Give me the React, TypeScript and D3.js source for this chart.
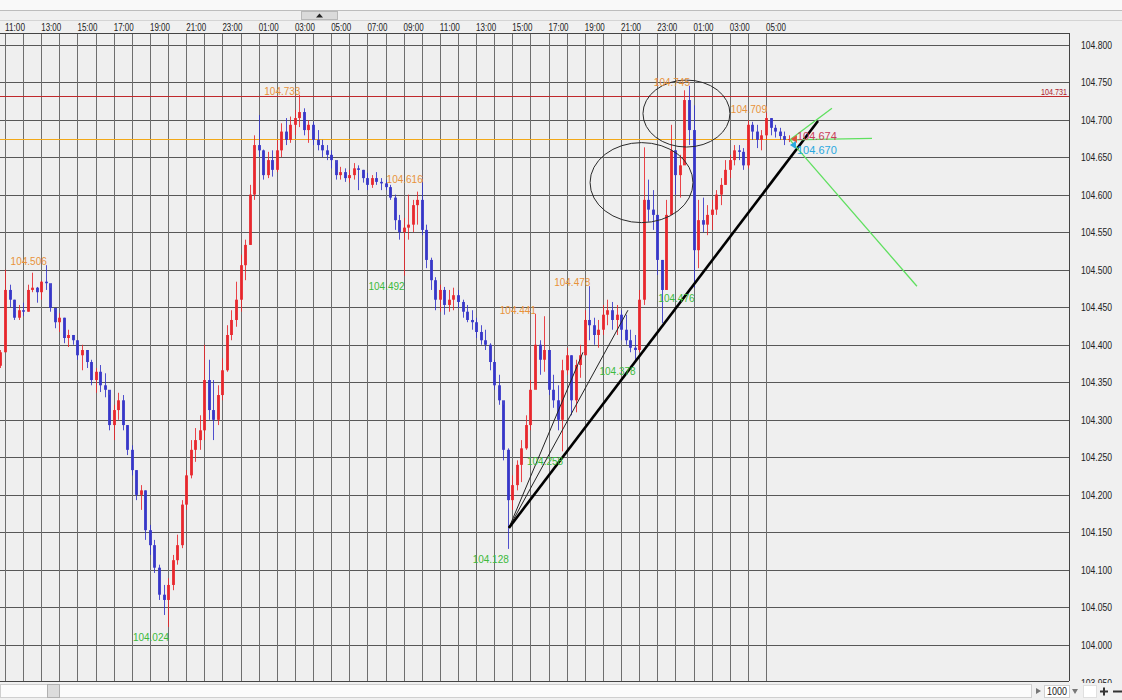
import React from "react";
import * as d3 from "d3";

// ---- time axis: hours counted from 11:00 of the first day ----
const FIRST_BAR_HOUR = -0.25; // 10:45
const BAR_HOURS = 0.25; // 15-minute bars
const timeLabels = ["11:00","13:00","15:00","17:00","19:00","21:00","23:00","01:00","03:00","05:00","07:00","09:00","11:00","13:00","15:00","17:00","19:00","21:00","23:00","01:00","03:00","05:00"];
const hourGridCount = 43; // hourly vertical lines 0..42

// ---- price axis ----
const priceTicks = [104.8,104.75,104.7,104.65,104.6,104.55,104.5,104.45,104.4,104.35,104.3,104.25,104.2,104.15,104.1,104.05,104.0,103.95];

// ---- OHLC series (open = previous close) ----
const firstOpen = 104.372;
const highs = [104.393,104.500,104.480,104.460,104.453,104.456,104.480,104.496,104.477,104.485,104.506,104.476,104.446,104.442,104.436,104.420,104.413,104.406,104.400,104.393,104.380,104.369,104.373,104.362,104.333,104.320,104.336,104.333,104.293,104.266,104.233,104.213,104.206,104.160,104.140,104.107,104.080,104.089,104.120,104.147,104.193,104.233,104.273,104.289,104.306,104.400,104.380,104.353,104.346,104.382,104.426,104.446,104.484,104.520,104.540,104.613,104.679,104.706,104.660,104.657,104.659,104.673,104.695,104.702,104.704,104.713,104.733,104.715,104.699,104.697,104.686,104.673,104.666,104.659,104.642,104.637,104.635,104.633,104.642,104.639,104.633,104.629,104.626,104.630,104.622,104.620,104.613,104.600,104.573,104.569,104.600,104.593,104.604,104.616,104.560,104.516,104.490,104.480,104.477,104.473,104.476,104.473,104.460,104.453,104.446,104.436,104.426,104.420,104.402,104.380,104.360,104.320,104.262,104.226,104.246,104.273,104.306,104.353,104.441,104.406,104.438,104.393,104.360,104.346,104.380,104.396,104.386,104.380,104.400,104.446,104.478,104.436,104.433,104.453,104.460,104.457,104.453,104.446,104.440,104.420,104.413,104.473,104.663,104.620,104.606,104.573,104.513,104.593,104.693,104.659,104.653,104.739,104.745,104.719,104.593,104.596,104.586,104.593,104.606,104.622,104.646,104.653,104.666,104.666,104.662,104.699,104.697,104.693,104.686,104.709,104.702,104.693,104.689,104.684,104.679];
const lows = [104.369,104.390,104.450,104.433,104.433,104.438,104.444,104.470,104.456,104.460,104.473,104.444,104.422,104.417,104.402,104.397,104.400,104.380,104.366,104.369,104.346,104.336,104.337,104.330,104.286,104.273,104.300,104.286,104.253,104.226,104.193,104.180,104.140,104.120,104.096,104.060,104.040,104.024,104.073,104.107,104.129,104.180,104.222,104.244,104.260,104.273,104.300,104.273,104.293,104.326,104.364,104.406,104.424,104.444,104.486,104.533,104.593,104.650,104.620,104.622,104.624,104.630,104.650,104.666,104.669,104.679,104.690,104.679,104.669,104.666,104.659,104.650,104.646,104.635,104.620,104.620,104.617,104.616,104.620,104.606,104.616,104.606,104.609,104.613,104.606,104.606,104.593,104.553,104.540,104.492,104.540,104.550,104.560,104.546,104.502,104.473,104.446,104.444,104.440,104.444,104.446,104.449,104.436,104.430,104.420,104.409,104.400,104.393,104.366,104.340,104.320,104.246,104.128,104.180,104.206,104.217,104.260,104.286,104.346,104.360,104.364,104.333,104.316,104.286,104.258,104.360,104.306,104.310,104.356,104.393,104.406,104.400,104.396,104.413,104.426,104.420,104.413,104.406,104.400,104.390,104.378,104.390,104.453,104.564,104.553,104.493,104.429,104.473,104.573,104.600,104.596,104.659,104.666,104.476,104.502,104.550,104.546,104.553,104.573,104.586,104.613,104.622,104.639,104.646,104.633,104.635,104.673,104.662,104.659,104.673,104.679,104.676,104.673,104.666,104.670];
const closes = [104.390,104.473,104.460,104.436,104.446,104.444,104.473,104.476,104.470,104.484,104.482,104.449,104.430,104.436,104.409,104.413,104.406,104.386,104.393,104.377,104.353,104.364,104.346,104.340,104.293,104.313,104.326,104.293,104.260,104.233,104.200,104.206,104.153,104.133,104.103,104.067,104.060,104.080,104.113,104.133,104.187,104.226,104.260,104.273,104.286,104.353,104.313,104.300,104.333,104.366,104.413,104.433,104.460,104.506,104.533,104.600,104.666,104.659,104.626,104.646,104.633,104.659,104.684,104.673,104.693,104.702,104.710,104.686,104.693,104.673,104.666,104.659,104.653,104.646,104.626,104.630,104.622,104.626,104.635,104.633,104.622,104.613,104.622,104.617,104.615,104.610,104.596,104.566,104.550,104.556,104.560,104.586,104.593,104.553,104.513,104.486,104.460,104.473,104.453,104.460,104.466,104.457,104.444,104.433,104.430,104.417,104.406,104.400,104.377,104.346,104.326,104.260,104.193,104.213,104.240,104.262,104.293,104.340,104.400,104.380,104.393,104.340,104.326,104.300,104.366,104.386,104.326,104.373,104.386,104.433,104.426,104.413,104.420,104.440,104.446,104.433,104.440,104.420,104.406,104.396,104.393,104.460,104.593,104.580,104.573,104.513,104.473,104.573,104.659,104.626,104.639,104.726,104.686,104.526,104.566,104.560,104.573,104.580,104.600,104.613,104.633,104.646,104.659,104.657,104.639,104.693,104.684,104.673,104.679,104.702,104.689,104.684,104.678,104.673,104.674];

// swing-point annotations (bar indexes)
const highMarks = [10, 66, 93, 118, 130, 152, 169];
const lowMarks = [37, 89, 112, 124, 140, 153];

// reference levels
const redLevel = 104.731;
const bidLevel = 104.674;
const askLevel = 104.670;

// drawing-tool objects in (hour, price)
const trendLine: [number, number][] = [[27.81, 104.156], [44.87, 104.698]];
const fanLines: [number, number][][] = [
  [[27.81, 104.156], [31.9, 104.390]],
  [[27.81, 104.156], [34.38, 104.446]],
];
const ellipses = [
  { t: 35.13, p: 104.616, rt: 2.84, rp: 0.0533 },
  { t: 37.61, p: 104.708, rt: 2.40, rp: 0.0446 },
];
const greenOrigin: [number, number] = [43.32, 104.673];
const greenEnds: [number, number][] = [[45.64, 104.715], [47.85, 104.675], [50.33, 104.478]];

const UP = "#e8262b";
const DOWN = "#3434c8";

export default function App() {
  const W = 1122, H = 700;
  const plot = { left: 0, right: 1069, top: 33, bottom: 681 };
  const x = d3.scaleLinear().domain([0, 42]).range([5, 766]);
  const y = d3.scaleLinear().domain([104, 104.8]).range([645, 44.5]);
  const fmt = d3.format(".3f");
  const crisp = (v: number) => Math.round(v) + 0.5;

  const bars = closes.map((c, i) => {
    const t = FIRST_BAR_HOUR + i * BAR_HOURS;
    const o = i === 0 ? firstOpen : closes[i - 1];
    return { t, o, h: highs[i], l: lows[i], c, up: c >= o };
  });

  const lineGen = d3.line<[number, number]>().x((d) => x(d[0])).y((d) => y(d[1]));

  return (
    <svg width={W} height={H} style={{ position: "absolute", left: 0, top: 0, fontFamily: "Liberation Sans, Arial, sans-serif" }}>
      <defs>
        <clipPath id="plotClip">
          <rect x={plot.left} y={plot.top} width={plot.right - plot.left} height={plot.bottom - plot.top} />
        </clipPath>
      </defs>
      <rect x={0} y={0} width={W} height={H} fill="#f0f0f0" />
      <rect x={plot.left} y={plot.top} width={plot.right - plot.left} height={plot.bottom - plot.top} fill="#efefef" />

      <g clipPath="url(#plotClip)">
        {/* horizontal grid */}
        {priceTicks.map((p) => (
          <line key={"h" + p} x1={plot.left} x2={plot.right} y1={crisp(y(p))} y2={crisp(y(p))} stroke="#585858" strokeWidth={1} />
        ))}
        {/* vertical hourly grid */}
        {d3.range(hourGridCount).map((h) => (
          <line key={"v" + h} x1={crisp(x(h))} x2={crisp(x(h))} y1={plot.top} y2={plot.bottom} stroke="#6e6e6e" strokeWidth={1} />
        ))}
        {/* reference levels */}
        <line x1={plot.left} x2={plot.right} y1={crisp(y(redLevel))} y2={crisp(y(redLevel))} stroke="#c0282c" strokeWidth={1} />
        <line x1={plot.left} x2={x(bars[bars.length - 1].t) + 2} y1={crisp(y(bidLevel))} y2={crisp(y(bidLevel))} stroke="#f2a818" strokeWidth={1} />

        {/* bars */}
        {bars.map((b, i) => {
          const cx = Math.round(x(b.t));
          const col = b.up ? UP : DOWN;
          const top = y(Math.max(b.o, b.c));
          const bot = y(Math.min(b.o, b.c));
          return (
            <g key={"b" + i}>
              <line x1={cx + 0.5} x2={cx + 0.5} y1={y(b.h)} y2={y(b.l)} stroke={col} strokeWidth={1} opacity={0.85} />
              <rect x={cx - 1} y={top} width={3} height={Math.max(1, bot - top)} fill={col} opacity={0.9} />
            </g>
          );
        })}

        {/* ellipses */}
        {ellipses.map((e, i) => (
          <ellipse key={"e" + i} cx={x(e.t)} cy={y(e.p)} rx={x(e.rt) - x(0)} ry={y(104) - y(104 + e.rp)} fill="none" stroke="#2a2a2a" strokeWidth={1} />
        ))}
        {/* fan lines */}
        {fanLines.map((l, i) => (
          <path key={"f" + i} d={lineGen(l) || ""} fill="none" stroke="#222" strokeWidth={1} />
        ))}
        <path d={lineGen(trendLine) || ""} fill="none" stroke="#000" strokeWidth={2.6} />
        {/* green lines */}
        {greenEnds.map((g, i) => (
          <path key={"g" + i} d={lineGen([greenOrigin, g]) || ""} fill="none" stroke="#5fe05f" strokeWidth={1.3} />
        ))}

        {/* swing labels */}
        {highMarks.map((k) => (
          <text key={"hm" + k} x={x(bars[k].t) + 1} y={y(bars[k].h)} textAnchor="end" fontSize={10} fill="#e8923a">{fmt(bars[k].h)}</text>
        ))}
        {lowMarks.map((k) => (
          <text key={"lm" + k} x={x(bars[k].t) + 1} y={y(bars[k].l) + 14} textAnchor="end" fontSize={10} fill="#3cba3c">{fmt(bars[k].l)}</text>
        ))}

        {/* last price markers */}
        <path d={`M${x(greenOrigin[0]) + 1},${y(bidLevel)} l6,-4 l0,8 z`} fill="#e0503a" />
        <path d={`M${x(greenOrigin[0])},${y(askLevel) + 3} l6,-4 l0,8 z`} fill="#28a8e0" />
        <text x={797} y={y(bidLevel) + 1} fontSize={11} fill="#c8405a">{fmt(bidLevel)}</text>
        <text x={797} y={y(askLevel) + 12} fontSize={11} fill="#28a8e0">{fmt(askLevel)}</text>

        <text x={1067} y={crisp(y(redLevel)) - 2} textAnchor="end" fontSize={8.5} fill="#b0202a" textLength={26} lengthAdjust="spacingAndGlyphs">{fmt(redLevel)}</text>
      </g>

      {/* plot frame */}
      <line x1={plot.left} x2={plot.right} y1={plot.top + 0.5} y2={plot.top + 0.5} stroke="#444" />
      <line x1={plot.right + 0.5} x2={plot.right + 0.5} y1={plot.top} y2={plot.bottom} stroke="#444" />
      <line x1={plot.left} x2={plot.right} y1={plot.bottom + 0.5} y2={plot.bottom + 0.5} stroke="#444" />

      {/* price axis labels */}
      {priceTicks.map((p) => (
        <text key={"pl" + p} x={1081} y={y(p) + 4} fontSize={11} fill="#222" textLength={31} lengthAdjust="spacingAndGlyphs">{fmt(p)}</text>
      ))}

      {/* top strip */}
      <rect x={0} y={0} width={W} height={10} fill="#f9f9f9" />
      <line x1={0} x2={W} y1={10.5} y2={10.5} stroke="#bdbdbd" />
      <line x1={0} x2={W} y1={20.5} y2={20.5} stroke="#d4d4d4" />
      <rect x={301.5} y={11.5} width={36} height={8} fill="#dadada" stroke="#b8b8b8" />
      <path d="M316,17.5 L319.5,13.5 L323,17.5 Z" fill="#222" />
      {timeLabels.map((s, i) => (
        <text key={"tl" + i} x={x(i * 2)} y={30.5} fontSize={10.5} fill="#222" textLength={20} lengthAdjust="spacingAndGlyphs">{s}</text>
      ))}

      {/* bottom strip */}
      <rect x={0} y={683} width={W} height={17} fill="#f0f0f0" />
      <rect x={0.5} y={684.5} width={1031} height={13} fill="#fbfbfb" stroke="#cfcfcf" />
      <rect x={47.5} y={684.5} width={12} height={13} fill="#dcdcdc" stroke="#b0b0b0" />
      <path d="M1036,688 L1041,691 L1036,694 Z" fill="#777" />
      <rect x={1044.5} y={685.5} width={25} height={12} fill="#fff" stroke="#d0d0d0" />
      <text x={1047} y={695} fontSize={10.5} fill="#222" textLength={20} lengthAdjust="spacingAndGlyphs">1000</text>
      <path d="M1072,689 L1078,689 L1075,694 Z" fill="#777" />
      <rect x={1083.5} y={685.5} width={13} height={12} fill="#fff" stroke="#e0e0e0" />
      <path d="M1100,691.5 L1108,691.5 M1104,687.5 L1104,695.5" stroke="#333" strokeWidth={2} />
      <path d="M1113,691.5 L1122,691.5" stroke="#333" strokeWidth={2} />
    </svg>
  );
}
